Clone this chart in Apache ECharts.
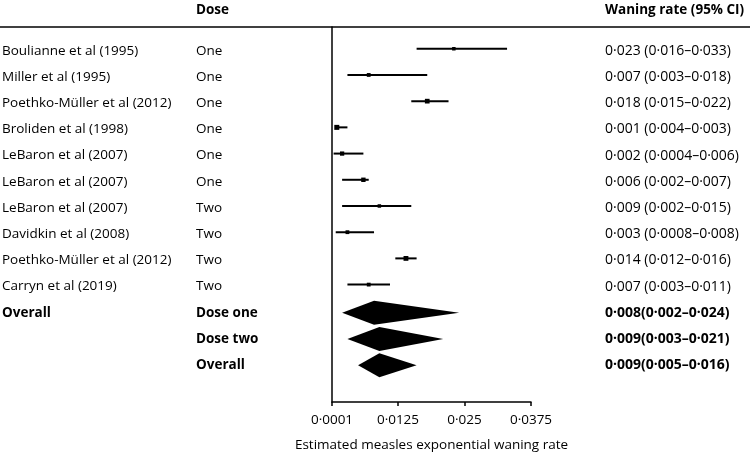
<!DOCTYPE html>
<html>
<head>
<meta charset="utf-8">
<script src="https://cdn.jsdelivr.net/npm/echarts@6/dist/echarts.min.js"></script>
<style>
  html, body { margin: 0; padding: 0; background: #fff; }
  #main { width: 750px; height: 456px; }
</style>
</head>
<body>
<div id="main"></div>
<script>
// study rows
var studies = ['Boulianne et al (1995)', 'Miller et al (1995)', 'Poethko-Müller et al (2012)',
  'Broliden et al (1998)', 'LeBaron et al (2007)', 'LeBaron et al (2007)', 'LeBaron et al (2007)',
  'Davidkin et al (2008)', 'Poethko-Müller et al (2012)', 'Carryn et al (2019)'];
var doses = ['One', 'One', 'One', 'One', 'One', 'One', 'Two', 'Two', 'Two', 'Two'];
var estimate = [0.023, 0.007, 0.018, 0.001, 0.002, 0.006, 0.009, 0.003, 0.014, 0.007];
var lower = [0.016, 0.003, 0.015, 0.0007, 0.0004, 0.002, 0.002, 0.0008, 0.012, 0.003];
var upper = [0.033, 0.018, 0.022, 0.003, 0.006, 0.007, 0.015, 0.008, 0.016, 0.011];
var weights = [1, 1.2, 1.8, 2, 1.5, 1.6, 1, 1.2, 1.9, 1.2];
var ciText = ['0·023 (0·016–0·033)', '0·007 (0·003–0·018)', '0·018 (0·015–0·022)',
  '0·001 (0·004–0·003)', '0·002 (0·0004–0·006)', '0·006 (0·002–0·007)', '0·009 (0·002–0·015)',
  '0·003 (0·0008–0·008)', '0·014 (0·012–0·016)', '0·007 (0·003–0·011)'];

// pooled rows
var pooledGroup = ['Overall', '', ''];
var pooledLabels = ['Dose one', 'Dose two', 'Overall'];
var pooledEst = [0.008, 0.009, 0.009];
var pooledLow = [0.002, 0.003, 0.005];
var pooledHigh = [0.024, 0.021, 0.016];
var pooledText = ['0·008(0·002–0·024)', '0·009(0·003–0·021)', '0·009(0·005–0·016)'];

// axis
var tickValues = [0.0001, 0.0125, 0.025, 0.0375];
var tickLabels = ['0·0001', '0·0125', '0·025', '0·0375'];

var leftCol = studies.concat(pooledGroup);
var doseCol = doses.concat(pooledLabels);
var rateCol = ciText.concat(pooledText);
var nStudies = studies.length;

var FONT = '"Open Sans"';
var chart = echarts.init(document.getElementById('main'));

var studyData = estimate.map(function (v, i) { return [i, v, lower[i], upper[i], weights[i]]; });
var pooledData = pooledEst.map(function (v, i) { return [nStudies + i, v, pooledLow[i], pooledHigh[i]]; });
var textData = leftCol.map(function (s, i) { return [i]; });

var option = {
  animation: false,
  backgroundColor: '#fff',
  grid: { left: 332, top: 27, width: 199, height: 375, outerBoundsMode: 'none', containLabel: false },
  xAxis: {
    type: 'value',
    min: 0.0001,
    max: 0.0375,
    splitLine: { show: false },
    axisLine: { onZero: false, lineStyle: { color: '#000', width: 1.5 } },
    axisTick: { customValues: tickValues, length: 4, lineStyle: { color: '#000', width: 1.5 } },
    axisLabel: {
      customValues: tickValues,
      color: '#000', fontFamily: 'Open Sans', fontSize: 13.5, margin: 11,
      formatter: function (v) {
        var i = tickValues.indexOf(v);
        return i >= 0 ? tickLabels[i] : '';
      }
    },
    name: 'Estimated measles exponential waning rate',
    nameLocation: 'middle',
    nameGap: 36,
    nameTextStyle: { color: '#000', fontFamily: 'Open Sans', fontSize: 13.5 }
  },
  yAxis: {
    type: 'value',
    inverse: true,
    min: -0.83,
    max: 13.48,
    splitLine: { show: false },
    axisTick: { show: false },
    axisLabel: { show: false },
    axisLine: { show: true, onZero: false, lineStyle: { color: '#000', width: 1.5 } }
  },
  graphic: [
    { type: 'line', shape: { x1: 0, y1: 27, x2: 750, y2: 27 }, style: { stroke: '#000', lineWidth: 1.5 } },
    { type: 'text', x: 196, y: 10, style: { text: 'Dose', font: 'bold 13.5px ' + FONT, fill: '#000', verticalAlign: 'middle' } },
    { type: 'text', x: 605, y: 10, style: { text: 'Waning rate (95% CI)', font: 'bold 13.5px ' + FONT, fill: '#000', verticalAlign: 'middle' } }
  ],
  series: [
    {
      type: 'custom',
      name: 'studies',
      data: studyData,
      renderItem: function (params, api) {
        var row = api.value(0);
        var pe = api.coord([api.value(1), row]);
        var pl = api.coord([api.value(2), row]);
        var ph = api.coord([api.value(3), row]);
        var s = 2 + api.value(4) * 1.5;
        return {
          type: 'group',
          children: [
            { type: 'line', shape: { x1: pl[0], y1: pe[1], x2: ph[0], y2: pe[1] }, style: { stroke: '#000', lineWidth: 2 } },
            { type: 'rect', shape: { x: pe[0] - s / 2, y: pe[1] - s / 2, width: s, height: s }, style: { fill: '#000' } }
          ]
        };
      }
    },
    {
      type: 'custom',
      name: 'pooled',
      data: pooledData,
      renderItem: function (params, api) {
        var row = api.value(0);
        var pe = api.coord([api.value(1), row]);
        var pl = api.coord([api.value(2), row]);
        var ph = api.coord([api.value(3), row]);
        var y = pe[1] + 2;
        var h = 12;
        return {
          type: 'polygon',
          shape: { points: [[pl[0], y], [pe[0], y - h], [ph[0], y], [pe[0], y + h]] },
          style: { fill: '#000' }
        };
      }
    },
    {
      type: 'custom',
      name: 'table',
      data: textData,
      renderItem: function (params, api) {
        var i = params.dataIndex;
        var y = api.coord([0.0001, api.value(0)])[1] + 2;
        var w = i >= nStudies ? 'bold ' : '';
        var mk = function (x, t, size) {
          return { type: 'text', x: x, y: y, style: { text: t, font: w + size + 'px ' + FONT, fill: '#000', verticalAlign: 'middle' } };
        };
        return { type: 'group', children: [mk(2, leftCol[i], 13.5), mk(196, doseCol[i], 13.5), mk(605, rateCol[i], 14)] };
      }
    }
  ]
};

chart.setOption(option);
</script>
</body>
</html>
